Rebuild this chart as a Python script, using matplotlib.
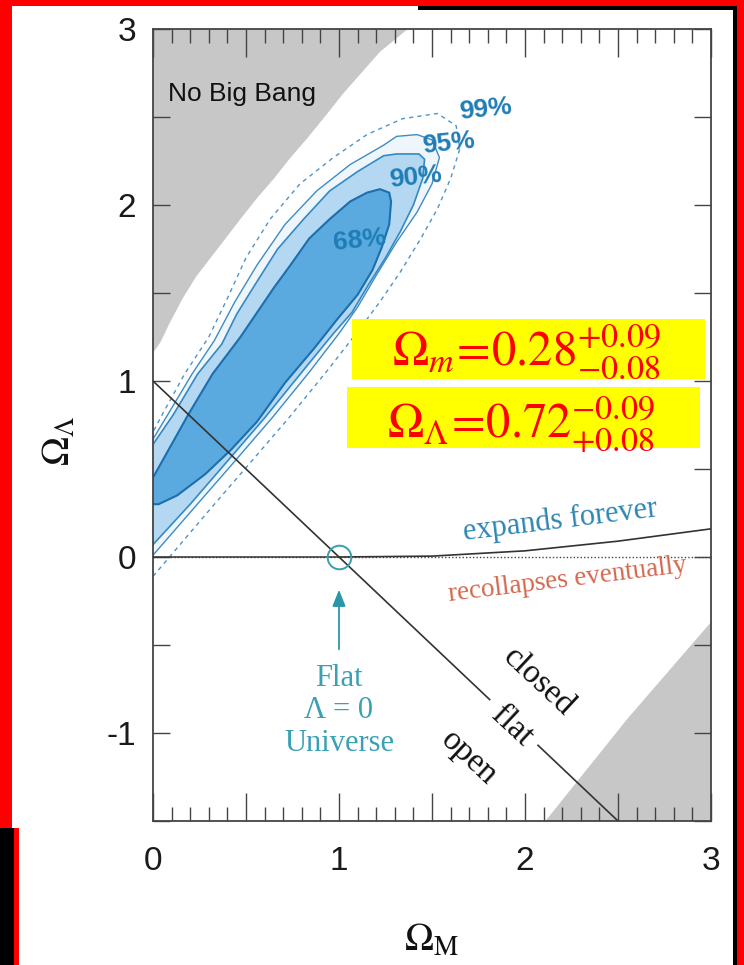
import matplotlib
matplotlib.use('Agg')
import matplotlib.pyplot as plt
from matplotlib.patches import Rectangle
from matplotlib.ticker import MultipleLocator, FuncFormatter

plt.rcParams['mathtext.fontset'] = 'stix'
plt.rcParams['font.family'] = ['Liberation Sans', 'DejaVu Sans']

# ---------------- data ----------------
# "No Big Bang" boundary (upper-left grey region)
nbb_x = [0.00, 0.04, 0.09, 0.16, 0.23, 0.31, 0.39, 0.47, 0.56, 0.65, 0.74, 0.83, 0.93, 1.02, 1.12, 1.22, 1.37]
nbb_y = [1.16, 1.22, 1.33, 1.47, 1.59, 1.70, 1.81, 1.92, 2.04, 2.15, 2.27, 2.38, 2.51, 2.63, 2.75, 2.87, 3.00]
# lower-right grey region boundary
lr_x = [2.11, 2.55, 3.00]
lr_y = [-1.50, -0.92, -0.37]

# confidence contours (closed outlines)
c68_x = [-0.06, 0.03, 0.13, 0.28, 0.42, 0.56, 0.71, 0.87, 0.99, 1.10, 1.18, 1.23, 1.27, 1.28, 1.27,
         1.22, 1.15, 1.06, 0.95, 0.84, 0.74, 0.65, 0.56, 0.47, 0.32, 0.19, 0.10, 0.01, -0.06]
c68_y = [0.30, 0.30, 0.35, 0.47, 0.61, 0.77, 0.99, 1.19, 1.35, 1.49, 1.63, 1.76, 1.89, 2.02, 2.07,
         2.09, 2.07, 2.02, 1.92, 1.81, 1.66, 1.53, 1.39, 1.25, 1.04, 0.81, 0.64, 0.47, 0.36]

c90_x = [-0.06, 0.00, 0.20, 0.38, 0.60, 0.80, 0.97, 1.07, 1.16, 1.25, 1.33, 1.40, 1.45, 1.46, 1.43,
         1.31, 1.24, 1.10, 0.95, 0.81, 0.67, 0.55, 0.45, 0.37, 0.24, 0.11, 0.00, -0.06]
c90_y = [0.00, 0.07, 0.30, 0.52, 0.79, 1.05, 1.27, 1.39, 1.55, 1.70, 1.85, 2.00, 2.15, 2.26, 2.29,
         2.29, 2.28, 2.19, 2.08, 1.92, 1.75, 1.55, 1.38, 1.21, 1.04, 0.81, 0.64, 0.55]

c95_x = [-0.06, 0.00, 0.23, 0.42, 0.64, 0.84, 1.00, 1.10, 1.20, 1.31, 1.42, 1.50, 1.54, 1.50, 1.42,
         1.31, 1.24, 1.06, 0.88, 0.71, 0.56, 0.44, 0.33, 0.21, 0.08, 0.00, -0.06]
c95_y = [-0.07, 0.01, 0.29, 0.52, 0.79, 1.05, 1.27, 1.42, 1.60, 1.79, 1.96, 2.12, 2.27, 2.37, 2.40,
         2.39, 2.34, 2.23, 2.08, 1.89, 1.66, 1.45, 1.23, 1.04, 0.81, 0.67, 0.58]

c99_x = [-0.06, 0.00, 0.33, 0.51, 0.73, 0.93, 1.10, 1.22, 1.33, 1.44, 1.53, 1.60, 1.65, 1.63, 1.53,
         1.34, 1.15, 0.97, 0.79, 0.63, 0.50, 0.40, 0.30, 0.17, 0.05, 0.00, -0.06]
c99_y = [-0.18, -0.11, 0.30, 0.52, 0.79, 1.05, 1.28, 1.45, 1.62, 1.81, 1.98, 2.15, 2.32, 2.45, 2.52,
         2.49, 2.40, 2.27, 2.12, 1.92, 1.70, 1.47, 1.25, 1.04, 0.81, 0.71, 0.60]

contour_labels = ['68%', '90%', '95%', '99%']
label_x = [1.11, 1.41, 1.59, 1.79]
label_y = [1.80, 2.16, 2.35, 2.545]

# flat-universe line (broken around the "flat" label)
flat1_x = [0.0, 1.81]
flat1_y = [1.0, -0.81]
flat2_x = [2.07, 2.5]
flat2_y = [-1.07, -1.5]

# expands / recollapses boundary
zero_x = [0.0, 1.0]
zero_y = [0.0, 0.0]
exp_x = [1.0, 1.5, 2.0, 2.5, 3.0]
exp_y = [0.0, 0.005, 0.035, 0.09, 0.16]

xticks_lab = [0, 1, 2, 3]
yticks_lab = [-1, 0, 1, 2, 3]

# ---------------- figure ----------------
W, H = 744, 965
fig = plt.figure(figsize=(W / 100, H / 100), dpi=100)
fig.patch.set_facecolor('white')
ax = fig.add_axes([153 / W, 1 - 821 / H, 558 / W, 792 / H])
ax.set_xlim(0, 3)
ax.set_ylim(-1.5, 3)

grey = '#c7c7c7'
ax.fill(nbb_x + [0.0], nbb_y + [3.0], color=grey, lw=0, zorder=1)
ax.fill(lr_x + [3.0], lr_y + [-1.5], color=grey, lw=0, zorder=1)

ax.fill(c99_x, c99_y, facecolor='none', edgecolor='#4f93c9', lw=1.0, ls=(0, (3, 3)), zorder=2)
ax.fill(c95_x, c95_y, facecolor='#eef6fc', edgecolor='#3f8cc3', lw=1.0, zorder=2)
ax.fill(c90_x, c90_y, facecolor='#b4d8f1', edgecolor='#3589c2', lw=1.2, zorder=2)
ax.fill(c68_x, c68_y, facecolor='#5aaae0', edgecolor='#1c6ead', lw=1.5, zorder=2)

for t, x, y in zip(contour_labels, label_x, label_y):
    ax.text(x, y, t, color='#1f7db5', fontsize=19, fontweight='bold', ha='center', va='center',
            rotation=6, zorder=5)

ax.text(0.08, 2.59, 'No Big Bang', fontsize=19, color='#111111', ha='left', va='baseline', zorder=5)

# lines
ax.plot([0, 3], [0, 0], color='#444444', lw=1.0, ls=(0, (1, 1.5)), zorder=3)
ax.plot(zero_x, zero_y, color='#333333', lw=1.1, zorder=3)
ax.plot(exp_x, exp_y, color='#333333', lw=1.2, zorder=3)
ax.plot(flat1_x, flat1_y, color='#333333', lw=1.2, zorder=3)
ax.plot(flat2_x, flat2_y, color='#333333', lw=1.2, zorder=3)

serif = ['Liberation Serif', 'DejaVu Serif']
ax.text(2.19, 0.21, 'expands forever', family=serif, fontsize=22, color='#2e86b3',
        rotation=7, ha='center', va='center', zorder=5)
ax.text(2.23, -0.13, 'recollapses eventually', family=serif, fontsize=19.5, color='#d3694f',
        rotation=7, ha='center', va='center', zorder=5)
ax.text(2.07, -0.71, 'closed', family=serif, fontsize=24, color='#111111',
        rotation=-43, ha='center', va='center', rotation_mode='anchor', zorder=5)
ax.text(1.93, -0.96, 'flat', family=serif, fontsize=24, color='#111111',
        rotation=-43, ha='center', va='center', rotation_mode='anchor', zorder=5)
ax.text(1.70, -1.14, 'open', family=serif, fontsize=24, color='#111111',
        rotation=-43, ha='center', va='center', rotation_mode='anchor', zorder=5)

teal = '#35a0ae'
ax.plot([1.0], [0.0], marker='o', ms=17, mfc='none', mec=teal, mew=1.4, zorder=4)
ax.annotate('', xy=(1.0, -0.17), xytext=(1.0, -0.54),
            arrowprops=dict(arrowstyle='-|>,head_length=1.0,head_width=0.4', color='#2a97a8', lw=1.3),
            zorder=4)
ax.text(1.0, -0.875, 'Flat\n\u039b = 0\nUniverse', family=serif, fontsize=22, color='#3aa0b3',
        ha='center', va='center', linespacing=1.15, zorder=5)

# axes styling
for s in ax.spines.values():
    s.set_color('#444444')
    s.set_linewidth(1.3)
ax.xaxis.set_major_locator(MultipleLocator(0.5))
ax.xaxis.set_minor_locator(MultipleLocator(0.1))
ax.yaxis.set_major_locator(MultipleLocator(0.5))


def fmt(v, pos):
    r = round(v)
    if abs(v - r) < 1e-6:
        return str(int(r))
    return ''


ax.xaxis.set_major_formatter(FuncFormatter(fmt))
ax.yaxis.set_major_formatter(FuncFormatter(fmt))
ax.tick_params(which='both', direction='in', top=True, right=True, color='#444444', width=1.0)
ax.tick_params(axis='x', which='major', length=20, labelsize=24, pad=18, labelcolor='#1a1a1a')
ax.tick_params(axis='x', which='minor', length=10)
ax.tick_params(axis='y', which='major', length=12, labelsize=24, pad=12, labelcolor='#1a1a1a')

ax.set_xlabel(r'$\Omega_{\mathrm{M}}$', fontsize=28, color='#111111')
ax.xaxis.set_label_coords(0.5, -0.128)
ax.set_ylabel(r'$\Omega_{\Lambda}$', fontsize=28, color='#111111')
ax.yaxis.set_label_coords(-0.135, 0.48)


# ---------------- decorations in figure pixels ----------------
def prect(x, y, w, h, color, z=10):
    fig.add_artist(Rectangle((x / W, 1 - (y + h) / H), w / W, h / H, transform=fig.transFigure,
                             facecolor=color, edgecolor='none', zorder=z))


prect(352, 319, 353, 60, '#ffff00')
prect(347, 387, 353, 61, '#ffff00')
fig.text(526 / W, 1 - 366 / H, r'$\Omega_{m}\!=\!0.28^{+0.09}_{-0.08}$', color='#ff0000',
         fontsize=35, ha='center', va='baseline', zorder=12)
fig.text(521 / W, 1 - 438 / H, r'$\Omega_{\Lambda}\!=\!0.72^{-0.09}_{+0.08}$', color='#ff0000',
         fontsize=35, ha='center', va='baseline', zorder=12)

prect(0, 0, 744, 6, '#ff0000')
prect(418, 6, 320, 4, '#000000')
prect(733, 6, 4, 959, '#000000')
prect(737, 0, 7, 965, '#ff0000')
prect(0, 0, 12, 828, '#ff0000')
prect(0, 828, 14, 137, '#000000')
prect(14, 828, 5, 137, '#ff0000')

fig.savefig('out.png', dpi=100)
